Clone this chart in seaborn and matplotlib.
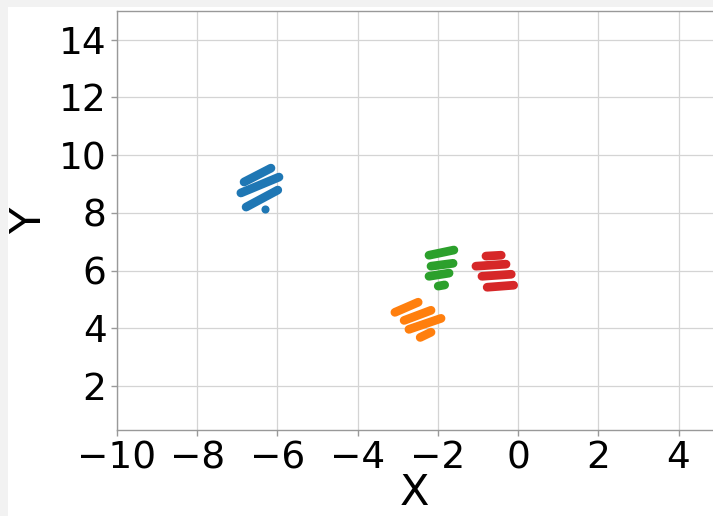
import numpy as np
import pandas as pd
import seaborn as sns
import matplotlib.pyplot as plt
from matplotlib.patches import Rectangle

# stripe end points, per cluster (start -> end)
blue_x0 = [-6.83, -6.91, -6.78]
blue_y0 = [9.07, 8.69, 8.20]
blue_x1 = [-6.16, -5.96, -5.99]
blue_y1 = [9.55, 9.24, 8.79]
blue_dot_x = [-6.31]
blue_dot_y = [8.13]

orange_x0 = [-3.07, -2.84, -2.72, -2.44]
orange_y0 = [4.55, 4.27, 3.96, 3.68]
orange_x1 = [-2.49, -2.17, -1.92, -2.17]
orange_y1 = [4.90, 4.62, 4.34, 3.86]

green_x0 = [-2.22, -2.17, -2.22, -1.99]
green_y0 = [6.53, 6.15, 5.80, 5.46]
green_x1 = [-1.60, -1.62, -1.72, -1.83]
green_y1 = [6.71, 6.25, 5.91, 5.50]

red_x0 = [-0.80, -1.05, -0.90, -0.77]
red_y0 = [6.50, 6.15, 5.80, 5.42]
red_x1 = [-0.42, -0.30, -0.17, -0.11]
red_y1 = [6.53, 6.22, 5.87, 5.49]

clusters = ["0", "1", "2", "3"]
colors = ["#1f77b4", "#ff7f0e", "#2ca02c", "#d62728"]
x_ticks = [-10, -8, -6, -4, -2, 0, 2, 4]
y_ticks = [2, 4, 6, 8, 10, 12, 14]

rows = []
stripes = [(blue_x0, blue_y0, blue_x1, blue_y1),
           (orange_x0, orange_y0, orange_x1, orange_y1),
           (green_x0, green_y0, green_x1, green_y1),
           (red_x0, red_y0, red_x1, red_y1)]
for c, (xs0, ys0, xs1, ys1) in zip(clusters, stripes):
    for i in range(len(xs0)):
        rows.append({"cluster": c, "stripe": c + str(i), "x": xs0[i], "y": ys0[i]})
        rows.append({"cluster": c, "stripe": c + str(i), "x": xs1[i], "y": ys1[i]})
df = pd.DataFrame(rows)
dots = pd.DataFrame({"cluster": ["0"], "x": blue_dot_x, "y": blue_dot_y})

sns.set_style("whitegrid")
plt.rcParams['font.family'] = ['DejaVu Sans']
plt.rcParams['text.color'] = 'black'
plt.rcParams['axes.labelcolor'] = 'black'
plt.rcParams['xtick.color'] = 'black'
plt.rcParams['ytick.color'] = 'black'

fig = plt.figure(figsize=(7.13, 5.16), dpi=100)
ax = fig.add_axes([0.164, 0.1667, 0.836, 0.812])

sns.lineplot(data=df, x="x", y="y", hue="cluster", units="stripe", estimator=None,
             sort=False, palette=colors, hue_order=clusters, legend=False,
             linewidth=6.3, solid_capstyle="round", ax=ax)
sns.scatterplot(data=dots, x="x", y="y", hue="cluster", palette=colors[:1],
                s=34, linewidth=0, legend=False, ax=ax)

ax.set_xlim(-10, 4.86)
ax.set_ylim(0.47, 15.0)
ax.set_xticks(x_ticks)
ax.set_yticks(y_ticks)
ax.tick_params(labelsize=27, length=4, width=1, color="0.6", labelcolor="black",
               left=True, bottom=True)
ax.set_xlabel("X", fontsize=31, labelpad=-3, color="black")
ax.set_ylabel("Y", fontsize=31, labelpad=6, color="black")
ax.grid(color="0.83", linewidth=0.9)
for s in ["left", "bottom", "top"]:
    ax.spines[s].set_color("0.6")
    ax.spines[s].set_linewidth(1)
ax.spines["right"].set_visible(False)

# light grey frame on the left and top edges
fig.patches.append(Rectangle((0, 0), 8 / 713, 1, transform=fig.transFigure,
                             facecolor="#f2f2f2", edgecolor="none", zorder=-1))
fig.patches.append(Rectangle((0, 1 - 7 / 516), 1, 7 / 516, transform=fig.transFigure,
                             facecolor="#f2f2f2", edgecolor="none", zorder=-1))

fig.savefig("out.png", dpi=100)
